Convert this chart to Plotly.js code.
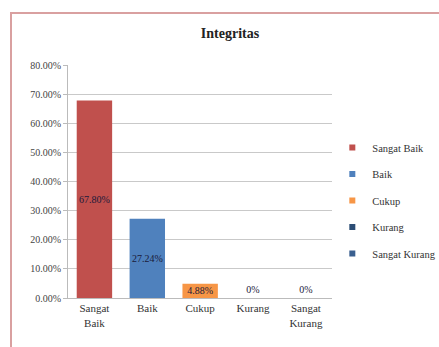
<!DOCTYPE html>
<html>
<head>
<meta charset="utf-8">
<script src="https://cdn.plot.ly/plotly-3.0.1.min.js"></script>
<style>
html,body{margin:0;padding:0;background:#fff;}
#wrap{position:relative;width:439px;height:347px;overflow:hidden;}
#chart{position:absolute;left:0;top:0;width:439px;height:347px;}
#frame{position:absolute;left:10px;top:12px;width:440px;height:350px;border-left:2px solid #d9a0a0;border-top:2px solid #d9a0a0;pointer-events:none;}
</style>
</head>
<body>
<div id="wrap"><div id="chart"></div><div id="frame"></div></div>
<script>
const categories = ["Sangat Baik", "Baik", "Cukup", "Kurang", "Sangat Kurang"];
const tickLabels = ["Sangat<br>Baik", "Baik", "Cukup", "Kurang", "Sangat<br>Kurang"];
const values = [67.80, 27.24, 4.88, 0, 0];
const colors = ["#C0504D", "#4F81BD", "#F79646", "#2C4D75", "#3A5F8F"];

const serif = "Liberation Serif, Times New Roman, serif";
const fmt = v => v === 0 ? "0%" : v.toFixed(2) + "%";

const bars = categories.map((c, i) => ({
  type: "bar",
  name: c,
  showlegend: false,
  x: [tickLabels[i]],
  y: [values[i]],
  text: [fmt(values[i])],
  textposition: values[i] > 0 ? "inside" : "outside",
  insidetextanchor: "middle",
  textangle: 0,
  constraintext: "none",
  cliponaxis: false,
  textfont: {family: serif, size: 10, color: "#1a1a3a"},
  marker: {color: colors[i], line: {width: 0}},
  hoverinfo: "skip"
}));

// legend entries with small square symbols
const legendEntries = categories.map((c, i) => ({
  type: "scatter",
  mode: "markers",
  x: [null], y: [null],
  name: c,
  legendgroup: "g" + i,
  marker: {symbol: "square", size: 6, color: colors[i], line: {width: 0}},
  hoverinfo: "skip"
}));

const layout = {
  width: 439, height: 347,
  margin: {l: 68, r: 104, t: 65, b: 49},
  paper_bgcolor: "#ffffff",
  plot_bgcolor: "#ffffff",
  barmode: "overlay",
  bargap: 0.33,
  showlegend: true,
  title: {
    text: "<b>Integritas</b>",
    font: {family: serif, size: 14, color: "#222"},
    xref: "container", x: 0.524, xanchor: "center",
    yref: "container", y: 0.905, yanchor: "middle"
  },
  xaxis: {
    type: "category",
    categoryorder: "array",
    categoryarray: tickLabels,
    tickfont: {family: serif, size: 11, color: "#333"},
    showgrid: false,
    showline: true, linecolor: "#bbbbbb", linewidth: 1,
    ticks: "", ticklen: 0
  },
  yaxis: {
    range: [0, 80],
    dtick: 10,
    tickformat: ".2f",
    ticksuffix: "%",
    tickfont: {family: serif, size: 10, color: "#444"},
    showgrid: true, gridcolor: "#c9c9c9", gridwidth: 1,
    showline: true, linecolor: "#bbbbbb", linewidth: 1,
    ticks: "outside", ticklen: 4, tickcolor: "#bbbbbb",
    zeroline: false
  },
  legend: {
    xref: "container", yref: "container",
    x: 0.757, xanchor: "left",
    y: 0.617, yanchor: "top",
    font: {family: serif, size: 10.5, color: "#333"},
    traceorder: "grouped",
    tracegroupgap: 7.5,
    itemwidth: 30,
    bgcolor: "rgba(255,255,255,0)"
  }
};

Plotly.newPlot("chart", bars.concat(legendEntries), layout, {displayModeBar: false, staticPlot: true});
</script>
</body>
</html>
